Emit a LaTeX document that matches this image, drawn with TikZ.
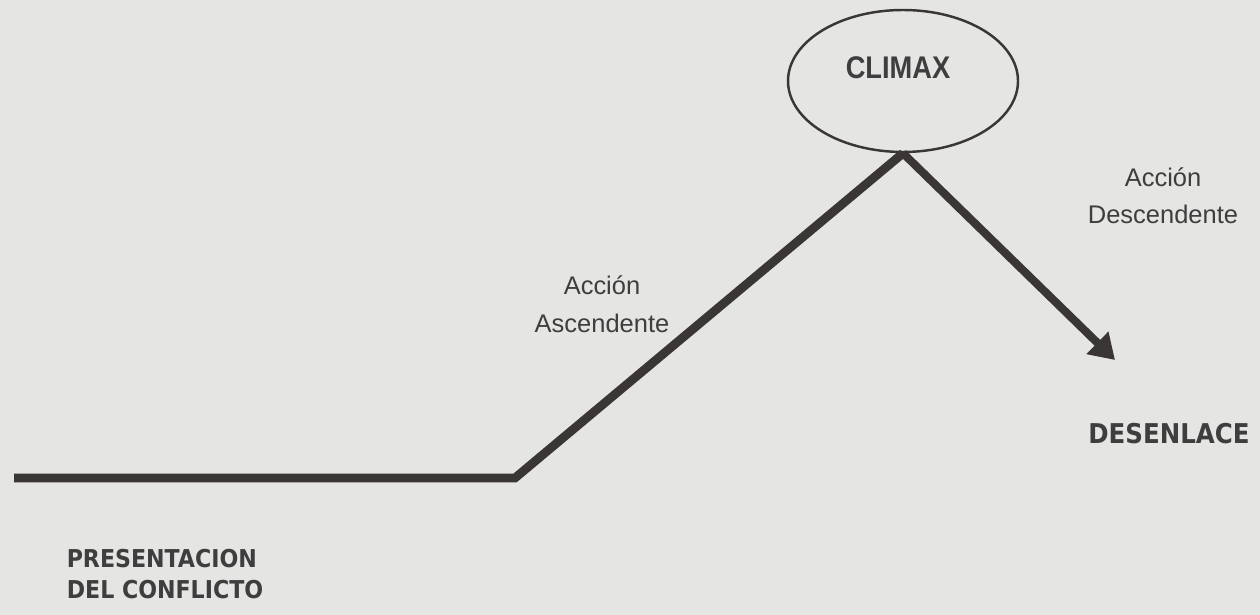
\documentclass[tikz,border=0pt]{standalone}
\usepackage{fontspec}
\setmainfont{Liberation Sans}
\newfontfamily\titulofont{DejaVu Sans Condensed}
\usepackage{xcolor}
\usetikzlibrary{shapes.geometric, arrows.meta}
\definecolor{papel}{RGB}{229,229,228}
\definecolor{tinta}{RGB}{58,54,54}
\definecolor{letra}{RGB}{62,62,62}

\begin{document}
\begin{tikzpicture}
    \fill[papel] (0,0) rectangle (25.2,12.3);
    \useasboundingbox (0,0) rectangle (25.2,12.3);

    \node[draw=tinta, line width=1.4pt, ellipse, fill=papel, minimum width=4.6cm, minimum height=2.84cm,
        label={[text=letra, font=\bfseries\fontsize{15.5}{18}\selectfont, xshift=-0.1cm, yshift=0.26cm]center:\scalebox{1}[1.15]{CLIMAX}}] (climax) at (18.06,10.68) {};
    \coordinate (inicio) at (0.28,2.74);
    \coordinate (giro) at (10.3,2.74);
    \coordinate (fin) at (22.3,5.1);

    \node[text=letra, align=center, font=\fontsize{14.5}{21.5}\selectfont] (ascenso) at (12.04,6.22) {Acción\\Ascendente};
    \node[text=letra, align=center, font=\fontsize{14.5}{21}\selectfont] (descenso) at (23.26,8.38) {Acción\\Descendente};
    \node[text=letra, font=\titulofont\bfseries\fontsize{15.5}{18}\selectfont] (desenlace) at (23.38,3.62) {DESENLACE};
    \node[text=letra, align=left, font=\titulofont\bfseries\fontsize{14}{18}\selectfont] (presentacion) at (3.3,0.82) {PRESENTACION\\DEL CONFLICTO};

    \draw[tinta, line width=5pt] (inicio) -- (giro) -- (climax.south);
    \draw[tinta, line width=4.6pt, -{Triangle[length=14pt, width=17pt]}] (climax.south) -- (fin);
\end{tikzpicture}
\end{document}
